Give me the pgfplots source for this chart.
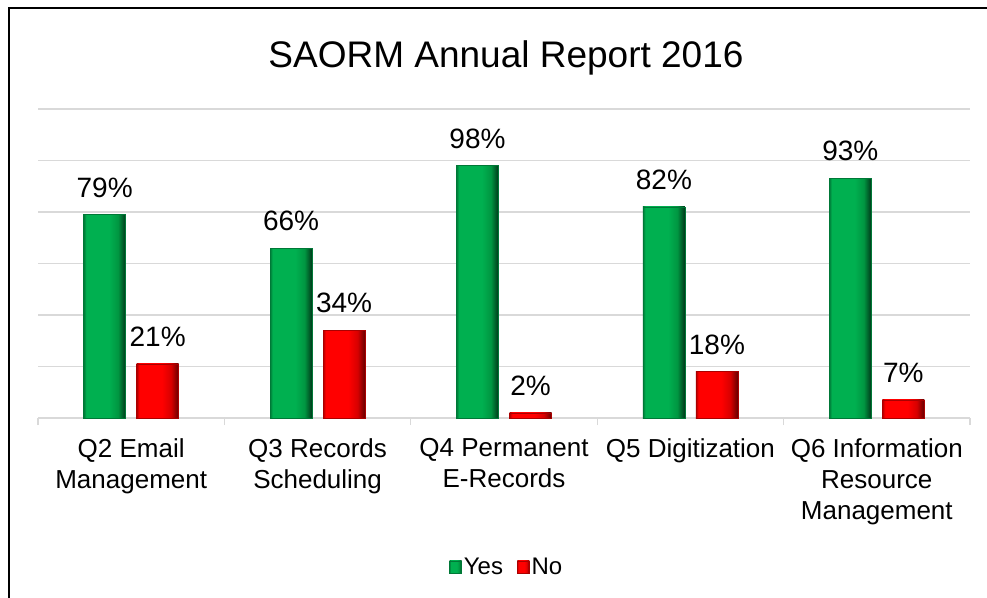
\documentclass[border=0pt]{standalone}
\usepackage{fontspec}
\setmainfont{Liberation Sans}
\usepackage{pgfplots}
\pgfplotsset{compat=1.18}
\definecolor{gA}{RGB}{0,120,55}
\definecolor{gB}{RGB}{0,176,80}
\definecolor{gC}{RGB}{0,150,65}
\definecolor{gD}{RGB}{0,55,25}
\definecolor{rA}{RGB}{170,0,0}
\definecolor{rB}{RGB}{255,0,0}
\definecolor{rC}{RGB}{215,0,0}
\definecolor{rD}{RGB}{100,0,0}
\definecolor{gridc}{RGB}{217,217,217}
\pgfdeclarehorizontalshading{gbar}{100bp}{color(0bp)=(gA); color(25bp)=(gA); color(28bp)=(gB); color(55bp)=(gB); color(66bp)=(gC); color(75bp)=(gD); color(100bp)=(gD)}
\pgfdeclarehorizontalshading{rbar}{100bp}{color(0bp)=(rA); color(25bp)=(rA); color(28bp)=(rB); color(55bp)=(rB); color(66bp)=(rC); color(75bp)=(rD); color(100bp)=(rD)}
\pgfplotsset{
  yesbar/.style={forget plot, ybar, bar width=42pt, bar shift=-26.5pt, shading=gbar, draw=gA, line width=0.6pt,
    every node near coord/.append style={xshift=-26.5pt}},
  nobar/.style={forget plot, ybar, bar width=42pt, bar shift=26.5pt, shading=rbar, draw=rA, line width=0.6pt,
    every node near coord/.append style={xshift=26.5pt}},
}
\begin{document}
\begin{tikzpicture}
\useasboundingbox (0,0) rectangle (987pt,597pt);
\fill[white] (0,0) rectangle (987pt,597pt);
\draw[line width=2.5pt, line cap=rect] (9pt,0pt) -- (9pt,589pt) -- (987pt,589pt);
\node[anchor=base, font=\fontsize{37}{44}\selectfont, inner sep=0pt] at (506pt,529pt) {SAORM Annual Report 2016};
\begin{axis}[
  at={(38pt,179pt)}, anchor=south west,
  scale only axis, width=932pt, height=309pt,
  xmin=-0.5, xmax=4.5, ymin=0, ymax=120,
  axis x line*=bottom, axis y line*=left,
  y axis line style={draw=none},
  x axis line style={draw=gridc, line width=1.3pt},
  ytick={0,20,...,120}, yticklabels={}, ytick style={draw=none},
  ymajorgrids, major grid style={draw=gridc, line width=1.3pt},
  xtick={0,1,2,3,4},
  xticklabels={Q2 Email\\Management, Q3 Records\\Scheduling, Q4 Permanent\\E-Records, Q5 Digitization, Q6 Information\\Resource\\Management},
  xticklabel style={align=center, anchor=north, inner sep=0pt, yshift=-20pt, font=\fontsize{26}{31}\selectfont},
  major x tick style={draw=none},
  minor xtick={-0.5,0.5,1.5,2.5,3.5,4.5},
  minor x tick style={draw=gridc, line width=1.3pt},
  tick align=outside, minor tick length=7pt, major tick length=0pt,
  nodes near coords={\pgfmathprintnumber[assume math mode=true]{\pgfplotspointmeta}\%},
  every node near coord/.append style={inner sep=0pt, yshift=17pt, font=\fontsize{28}{32}\selectfont, text=black},
  legend columns=-1,
  legend style={at={(0.503,-0.482)}, anchor=center, draw=none, fill=none, font=\fontsize{24}{28}\selectfont,
    /tikz/every even column/.append style={column sep=12pt}},
]
\addlegendimage{legend image code/.code={\draw[shading=gbar, draw=gA, line width=0.6pt] (0pt,-6pt) rectangle (12pt,6pt);}}
\addlegendentry{Yes}
\addlegendimage{legend image code/.code={\draw[shading=rbar, draw=rA, line width=0.6pt] (0pt,-6pt) rectangle (12pt,6pt);}}
\addlegendentry{No}
\addplot[yesbar] coordinates {(0,79)};
\addplot[yesbar] coordinates {(1,66)};
\addplot[yesbar] coordinates {(2,98)};
\addplot[yesbar] coordinates {(3,82)};
\addplot[yesbar] coordinates {(4,93)};
\addplot[nobar] coordinates {(0,21)};
\addplot[nobar] coordinates {(1,34)};
\addplot[nobar] coordinates {(2,2)};
\addplot[nobar] coordinates {(3,18)};
\addplot[nobar] coordinates {(4,7)};
\end{axis}
\end{tikzpicture}
\end{document}
